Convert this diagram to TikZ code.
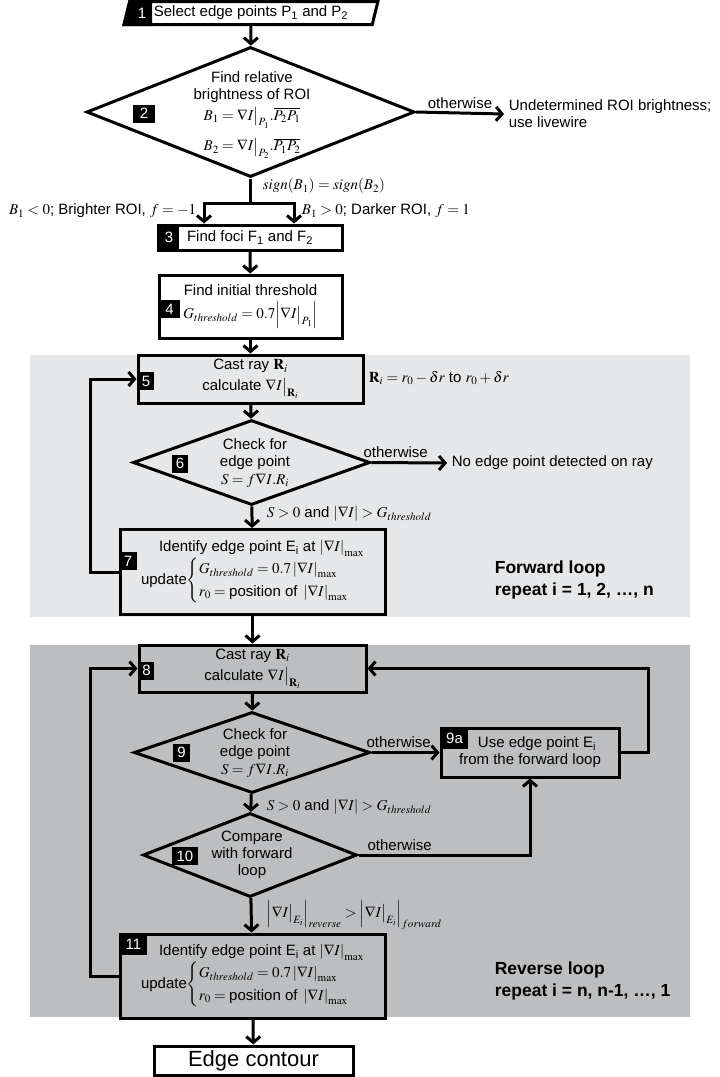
\documentclass[tikz,border=0pt]{standalone}
\usepackage{amsmath}
\usepackage{mathptmx}
\usepackage{fontspec}
\setmainfont{Liberation Sans}
\usetikzlibrary{arrows.meta, shapes.geometric}
\definecolor{fwdgray}{HTML}{E6E7E8}
\definecolor{revgray}{HTML}{BCBEC0}

\begin{document}
\begin{tikzpicture}[x=1pt, y=-1pt, line width=3pt,
    font=\fontsize{15}{17}\selectfont,
    box/.style={draw, line width=3pt, inner sep=0pt},
    decision/.style={draw, diamond, line width=3pt, inner sep=0pt},
    num/.style={fill=black, text=white, inner sep=0pt, minimum height=18},
    flow/.style={-{Straight Barb[length=6pt, width=14pt]}},
    loopnote/.style={anchor=west, align=left, font=\fontsize{17.5}{22}\selectfont\bfseries}]

        \useasboundingbox (0,0) rectangle (720,1077);
        \fill[fwdgray] (30,355) rectangle (690,617);
        \fill[revgray] (30,645) rectangle (690,1017);

        \node[trapezium, draw, trapezium left angle=72, trapezium right angle=108, trapezium stretches=true, minimum width=254, minimum height=23, inner sep=0pt] (b1) at (251,13) {Select edge points P\textsubscript{1} and P\textsubscript{2}};
        \coordinate (n1x) at (152,0);
        \fill (b1.bottom left corner) -- (b1.top left corner) -- (b1.top left corner -| n1x) -- (b1.bottom left corner -| n1x) -- cycle;
        \node[text=white] (n1) at (142,13) {1};

        \node[decision, minimum width=328, minimum height=130] (d2) at (250.5,112) {};
        \node[align=center] (t2) at (252,115) {Find relative\\brightness of ROI\\[4pt]$B_1 = \nabla I\bigr|_{P_1} .\overline{P_2P_1}$\\[9pt]$B_2 = \nabla I\bigr|_{P_2} .\overline{P_1P_2}$};
        \node[num, minimum width=22] (n2) at (144,113.5) {2};
        \node[anchor=west, align=left] (ud) at (504,114) {Undetermined ROI brightness;\\use livewire};
        \draw[flow] (d2.east) -- (ud.west) node[midway, above] {otherwise};
        \node[anchor=west] (s2) at (258,186) {$\mathit{sign}(B_1) = \mathit{sign}(B_2)$};
        \node[anchor=east] (bl) at (201,211) {$B_1 < 0$; Brighter ROI, $f = -1$};
        \node[anchor=west] (br) at (297,211) {$B_1 > 0$; Darker ROI, $f = 1$};

        \node[box, minimum width=184, minimum height=25] (b3) at (250,237.5) {};
        \fill (b3.north west) rectangle ([xshift=22pt]b3.south west);
        \node (t3) at (250,237.5) {Find foci F\textsubscript{1} and F\textsubscript{2}};
        \node[text=white] (n3) at (169,237.5) {3};
        \coordinate (jl) at (204,203);
        \coordinate (jr) at (294,203);
        \draw[flow] (d2.south) |- (jl) -- (jl |- b3.north);
        \draw[flow] (d2.south) |- (jr) -- (jr |- b3.north);

        \node[box, minimum width=183, minimum height=63, align=center] (b4) at (250.5,306.5) {Find initial threshold\\[5pt]$G_{threshold} = 0.7\Bigl|\nabla I\bigr|_{P_1}\Bigr|$};
        \node[num, minimum width=21] (n4) at (169.5,309) {4};

        \node[box, minimum width=225, minimum height=48, align=center] (b5) at (250.5,379) {Cast ray $\mathbf{R}_i$\\[4pt]calculate $\nabla I\bigr|_{\mathbf{R}_i}$};
        \node[num, minimum width=15] (n5) at (146,381) {5};
        \node[anchor=west] (r5) at (364,378) {$\mathbf{R}_i = r_0 - \delta r$ to $r_0 + \delta r$};

        \node[decision, minimum width=237, minimum height=85] (d6) at (251.5,462.5) {};
        \node[align=center] (t6) at (255,463) {Check for\\edge point\\[1pt]$S = f\nabla I.R_i$};
        \node[num, minimum width=16] (n6) at (180,463.5) {6};
        \node[anchor=west] (ne6) at (447,463) {No edge point detected on ray};
        \draw[flow] (d6.east) -- (ne6.west) node[pos=0.32, above] {otherwise};
        \node[anchor=west] (c6) at (262,514) {$S > 0$ and $\left|\nabla I\right| > G_{threshold}$};

        \node[box, minimum width=265, minimum height=85, align=right] (b7) at (252.5,572) {Identify edge point E\textsubscript{i} at $\left|\nabla I\right|_{\mathrm{max}}$\\[1pt]update$\begin{cases} G_{threshold} = 0.7\left|\nabla I\right|_{\mathrm{max}}\\[2pt] r_0 = \text{position of } \left|\nabla I\right|_{\mathrm{max}}\end{cases}$};
        \node[num, minimum width=18] (n7) at (128,561) {7};
        \node[loopnote] (fl) at (490,580) {Forward loop\\repeat i = 1, 2, …, n};

        \node[box, minimum width=227, minimum height=47, align=center] (b8) at (252.5,668.5) {Cast ray $\mathbf{R}_i$\\[4pt]calculate $\nabla I\bigr|_{\mathbf{R}_i}$};
        \node[num, minimum width=15] (n8) at (146.5,670.5) {8};

        \node[decision, minimum width=236, minimum height=81] (d9) at (252,752.5) {};
        \node[align=center] (t9) at (255,753) {Check for\\edge point\\[1pt]$S = f\nabla I.R_i$};
        \node[num, minimum width=17] (n9) at (181.5,752.5) {9};
        \node[box, minimum width=178, minimum height=49, align=center] (b9a) at (530,752.5) {\hspace*{14pt}Use edge point E\textsubscript{i}\\from the forward loop};
        \node[num, minimum width=27, minimum height=21] (n9a) at (454.5,738.5) {9a};
        \draw[flow] (d9.east) -- (b9a.west) node[pos=0.4, above] {otherwise};
        \node[anchor=west] (c9) at (262,807) {$S > 0$ and $\left|\nabla I\right| > G_{threshold}$};

        \node[decision, minimum width=214, minimum height=84] (d10) at (250,855) {};
        \node[align=center] (t10) at (252,855) {Compare\\with forward\\loop};
        \node[num, minimum width=26] (n10) at (185,856) {10};
        \draw[flow] (d10.east) -| (b9a.south) node[pos=0.12, above] {otherwise};
        \node[anchor=west] (c10) at (262,915) {$\Bigl|\nabla I\bigr|_{E_i}\Bigr|_{reverse} > \Bigl|\nabla I\bigr|_{E_i}\Bigr|_{forward}$};

        \node[box, minimum width=265, minimum height=84, align=right] (b11) at (252.5,976) {Identify edge point E\textsubscript{i} at $\left|\nabla I\right|_{\mathrm{max}}$\\[1pt]update$\begin{cases} G_{threshold} = 0.7\left|\nabla I\right|_{\mathrm{max}}\\[2pt] r_0 = \text{position of } \left|\nabla I\right|_{\mathrm{max}}\end{cases}$};
        \node[num, minimum width=27, minimum height=21] (n11) at (133.5,944.5) {11};
        \node[loopnote] (rl) at (490,981) {Reverse loop\\repeat i = n, n-1, …, 1};

        \node[box, minimum width=199, minimum height=29, font=\fontsize{22}{24}\selectfont] (ec) at (253.5,1060.5) {Edge contour};

        \draw[flow] (b1) -- (d2);
        \draw[flow] (b3) -- (b4);
        \draw[flow] (b4) -- (b5);
        \draw[flow] (b5) -- (d6);
        \draw[flow] (d6) -- (b7);
        \draw[flow] (b7) -- (b8);
        \draw[flow] (b8) -- (d9);
        \draw[flow] (d9) -- (d10);
        \draw[flow] (d10) -- (b11);
        \draw[flow] (b11) -- (ec);
        \draw[flow] (b7.west) -- ++(-28,0) |- (b5.west);
        \draw[flow] (b11.west) -- ++(-28,0) |- (b8.west);
        \draw[flow] (b9a.east) -- ++(28,0) |- (b8.east);
    \end{tikzpicture}
\end{document}
